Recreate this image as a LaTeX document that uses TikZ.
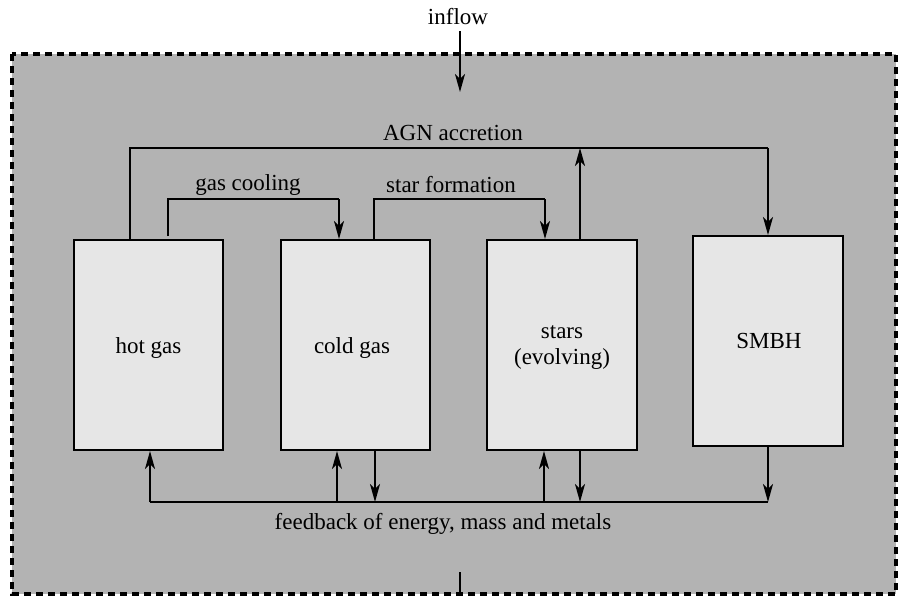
\documentclass[tikz,border=0pt]{standalone}
\usepackage{fontspec}
\setmainfont{Liberation Serif}
\usetikzlibrary{arrows.meta}
\begin{document}
\begin{tikzpicture}[x=1pt,y=-1pt,
  every node/.style={font=\fontsize{23}{26}\selectfont},
  compbox/.style={draw=black,line width=2pt,fill=boxgray,inner sep=0pt},
  conn/.style={line width=2pt,black},
  arr/.style={conn,-{Stealth[length=18pt,width=10pt,inset=5pt]}},
  lbl/.style={inner sep=1pt,text=black}]
\definecolor{boxgray}{HTML}{E6E6E6}
\definecolor{bggray}{HTML}{B3B3B3}
\useasboundingbox (0,0) rectangle (899,598);
\fill[white] (0,0) rectangle (899,598);
% dashed system border
\draw[fill=bggray,line width=3.5pt,dash pattern=on 7pt off 5pt] (12,54) rectangle (896,594);
% boxes
\node[compbox,minimum width=149pt,minimum height=210pt] (hot) at (148.5,345) {};
\node[compbox,minimum width=149pt,minimum height=210pt] (cold) at (355.5,345) {};
\node[compbox,minimum width=150pt,minimum height=210pt] (stars) at (562,345) {};
\node[compbox,minimum width=150pt,minimum height=210pt] (smbh) at (768,341) {};
\node[lbl] (hotT) at (148.5,348) {hot gas};
\node[lbl] (coldT) at (352,348) {cold gas};
\node[lbl,align=center] (starsT) at (562,347) {stars\\(evolving)};
\node[lbl] (smbhT) at (769,341) {SMBH};
% inflow
\node[lbl] (inflow) at (458,17) {inflow};
\coordinate (inTop) at (460,31);
\coordinate (inEnd) at (460,92);
\draw[arr] (inTop) -- (inEnd);
% AGN accretion
\coordinate (agnL) at (130,148);
\coordinate (agnR) at (768,148);
\coordinate (agnS) at (580,148);
\draw[conn] (hot.north -| agnL) -- (agnL) -- (agnR);
\draw[arr] (agnR) -- (smbh.north -| agnR);
\draw[arr] (stars.north -| agnS) -- (agnS);
\node[lbl] (agnlbl) at (453,133) {AGN accretion};
% gas cooling
\coordinate (gcL) at (168,199);
\coordinate (gcR) at (339,199);
\coordinate (gcS) at (168,236);
\draw[conn] (gcS) -- (gcL) -- (gcR);
\draw[arr] (gcR) -- (cold.north -| gcR);
\node[lbl] (gclbl) at (248,185) {gas cooling};
% star formation
\coordinate (sfL) at (374,199);
\coordinate (sfR) at (545,199);
\draw[conn] (cold.north -| sfL) -- (sfL) -- (sfR);
\draw[arr] (sfR) -- (stars.north -| sfR);
\node[lbl] (sflbl) at (451,185) {star formation};
% feedback
\coordinate (fbL) at (150,502);
\coordinate (fbR) at (768,502);
\draw[conn] (fbL) -- (fbR);
\coordinate (f1) at (150,502);
\coordinate (f2) at (337,502);
\coordinate (f3) at (375,502);
\coordinate (f4) at (544,502);
\coordinate (f5) at (580,502);
\coordinate (f6) at (768,502);
\draw[arr] (f1) -- (hot.south -| f1);
\draw[arr] (f2) -- (cold.south -| f2);
\draw[arr] (cold.south -| f3) -- (f3);
\draw[arr] (f4) -- (stars.south -| f4);
\draw[arr] (stars.south -| f5) -- (f5);
\draw[arr] (smbh.south -| f6) -- (f6);
\node[lbl] (fblbl) at (443,524) {feedback of energy, mass and metals};
% outflow stub
\coordinate (outA) at (460,572);
\coordinate (outB) at (460,594);
\draw[conn] (outA) -- (outB);
\end{tikzpicture}
\end{document}
